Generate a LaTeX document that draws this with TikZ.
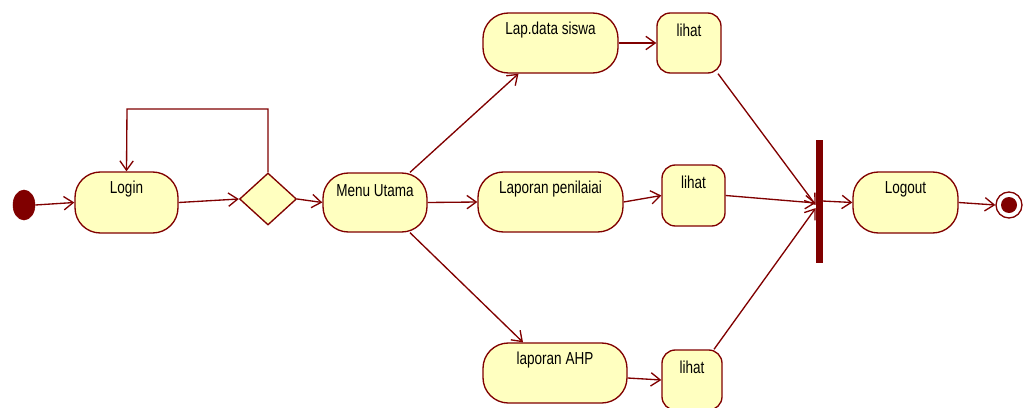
\documentclass[tikz,border=0pt]{standalone}
\usepackage{fontspec}
\setmainfont{Liberation Sans}[FakeStretch=0.78]
\usetikzlibrary{arrows.meta,shapes.geometric,calc}
\definecolor{dred}{RGB}{128,0,0}
\definecolor{actfill}{RGB}{255,255,192}
\tikzset{
  act/.style={draw=dred, fill=actfill, line width=1pt, rounded corners=19pt, inner sep=0pt},
  lih/.style={draw=dred, fill=actfill, line width=1pt, rounded corners=10pt, inner sep=0pt},
  lbl/.style={anchor=center, yshift=-13.5pt, font=\fontsize{13}{15}\selectfont, text=black},
  flow/.style={draw=dred, line width=1pt, -{Straight Barb[length=7pt,width=10pt,line width=1pt]}},
}
\begin{document}
\begin{tikzpicture}[x=0.75pt,y=-0.75pt]
\useasboundingbox (0,0) rectangle (1028,407);
% initial
\node[ellipse, fill=dred, draw=dred, minimum width=16.5pt, minimum height=22.5pt, inner sep=0pt] (init) at (24,205) {};
% activities
\node[act, minimum width=77.25pt, minimum height=45.75pt, label={[lbl]north:Login}] (login) at (126.5,202.5) {};
\node[diamond, draw=dred, fill=actfill, line width=1pt, inner sep=0pt, aspect=1.1, minimum width=42.75pt, minimum height=39pt] (dec) at (268,199) {};
\node[act, minimum width=78pt, minimum height=44.25pt, label={[lbl]north:Menu Utama}] (menu) at (375,202.5) {};
\node[act, minimum width=101.25pt, minimum height=45pt, label={[lbl]north:Lap.data siswa}] (lap) at (550.5,43) {};
\node[lih, minimum width=48pt, minimum height=45pt, label={[lbl]north:lihat}] (lih1) at (689,43) {};
\node[act, minimum width=108.75pt, minimum height=45pt, label={[lbl]north:Laporan penilaiai}] (pen) at (550.5,202) {};
\node[lih, minimum width=47.25pt, minimum height=45.75pt, label={[lbl]north:lihat}] (lih2) at (693.5,195.5) {};
\node[act, minimum width=108pt, minimum height=45pt, label={[lbl]north:laporan AHP}] (ahp) at (555,373) {};
\node[lih, minimum width=45pt, minimum height=45pt, label={[lbl]north:lihat}] (lih3) at (692,380) {};
% fork bar
\node[fill=dred, draw=dred, inner sep=0pt, minimum width=4.5pt, minimum height=91.5pt] (bar) at (819,201) {};
\node[act, minimum width=78.75pt, minimum height=45.75pt, label={[lbl]north:Logout}] (logout) at (905.5,202.5) {};
% final
\node[circle, draw=dred, fill=white, line width=1pt, minimum size=19.5pt, inner sep=0pt] (fin) at (1009,205) {};
\node[circle, fill=dred, minimum size=12pt, inner sep=0pt] (finin) at (fin.center) {};
% loop corners
\coordinate (lp1) at (268,109);
\coordinate (lp2) at (127,109);
% connectors
\draw[flow] (init.east) -- (login.west);
\draw[flow] (login.east) -- (dec.west);
\draw[flow] (dec.east) -- (menu.west);
\draw[flow] (dec.north) -- (lp1) -- (lp2) -- (login.north);
\draw[flow] ($(menu.north)+(35,0)$) -- ($(lap.south)+(-32,0)$);
\draw[flow] (menu.east) -- (pen.west);
\draw[flow] ($(menu.south)+(35,0)$) -- ($(ahp.north)+(-32,0)$);
\draw[flow] (lap.east) -- (lih1.west);
\draw[flow] (pen.east) -- (lih2.west);
\draw[flow] ($(ahp.east)+(0,5)$) -- (lih3.west);
\draw[flow] ($(lih1.south)+(29,0)$) -- ($(bar.west)+(0,4)$);
\draw[flow] (lih2.east) -- ($(bar.west)+(0,2)$);
\draw[flow] ($(lih3.north)+(22,0)$) -- ($(bar.west)+(0,7)$);
\draw[flow] (bar.east) -- (logout.west);
\draw[flow] (logout.east) -- (fin.west);
\end{tikzpicture}
\end{document}
